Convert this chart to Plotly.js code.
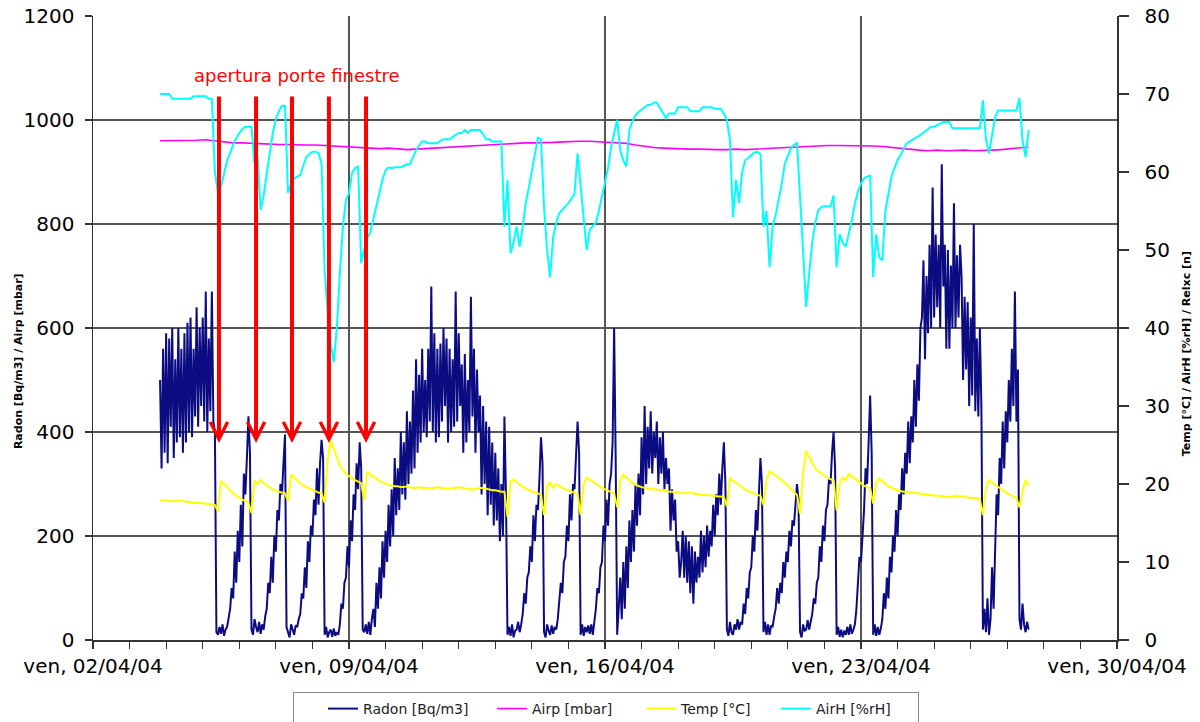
<!DOCTYPE html>
<html>
<head>
<meta charset="utf-8">
<script src="https://cdn.plot.ly/plotly-3.0.1.min.js"></script>
<style>html,body{margin:0;padding:0;background:#fff;}#chart{width:1200px;height:722px;}</style>
</head>
<body>
<div id="chart"></div>
<script>
// ---------- DATA ----------
// Logging starts 03/04/2004 20:00 at a regular step
const seriesStart = '2004-04-03T20:00:00Z';
const radonStepHours = 1;   // Radon
const stepHours = 2;        // Temp, AirH
const airpStepHours = 6;    // Airp

const radon = [
500,330,560,360,590,340,580,410,600,350,540,380,600,390,560,360,590,380,610,400,620,390,560,430,640,410,600,450,620,420,670,400,580,440,670,420,400,15,
10,25,12,30,8,20,25,40,60,100,80,170,110,210,150,260,180,320,280,350,430,360,
20,10,40,25,15,35,12,30,20,45,60,110,90,160,110,200,170,250,230,300,280,340,395,25,
15,5,30,18,10,28,25,40,50,90,80,140,100,190,150,220,200,270,240,330,260,340,385,350,
10,25,5,15,20,6,22,8,15,10,30,70,60,110,120,180,140,230,190,280,250,340,290,380,330,20,
15,30,12,35,10,40,60,25,110,60,140,80,190,120,210,150,260,180,290,200,350,240,330,250,400,280,380,270,440,300,420,320,480,330,540,360,510,380,560,400,500,390,560,420,
680,400,590,380,560,390,570,420,600,450,580,380,560,400,540,410,670,420,590,450,530,360,550,380,500,400,660,430,560,360,520,400,
470,280,450,300,420,240,410,260,380,220,360,230,330,190,300,200,430,280,
10,25,8,30,5,18,20,35,15,30,50,90,70,120,130,180,150,240,190,260,250,310,390,340,
15,5,30,18,10,28,12,25,20,40,70,110,90,150,160,220,190,280,230,300,290,350,420,360,
10,30,8,25,15,28,12,30,10,35,60,100,90,140,150,220,190,270,220,300,320,380,600,350,
10,60,120,40,150,60,180,100,230,150,250,170,300,220,320,240,390,280,450,300,410,330,440,320,400,350,420,300,390,320,400,290,350,300,330,210,290,230,270,170,190,120,
150,210,120,200,110,190,90,180,70,170,110,160,120,210,130,200,140,220,160,210,180,260,200,280,240,320,260,330,380,300,
20,8,35,15,10,30,20,40,20,35,30,70,50,100,80,130,140,200,170,250,210,280,350,300,
15,35,10,30,10,28,25,45,60,100,70,110,90,150,120,170,150,210,180,230,220,260,300,270,
15,5,30,18,20,38,20,35,50,80,70,110,120,180,150,220,190,250,260,310,300,360,400,330,
10,25,6,20,5,18,10,25,10,30,12,20,30,60,100,160,150,200,250,330,300,380,470,360,
10,30,8,25,10,22,40,90,60,120,80,160,130,200,170,250,200,280,250,330,280,360,320,420,340,430,380,500,410,530,460,600,
620,730,540,700,590,760,600,870,620,780,640,760,600,915,680,760,560,750,560,720,600,840,600,740,620,760,
700,500,660,520,650,450,620,470,800,440,580,430,600,450,
20,60,15,80,10,40,140,60,200,280,240,350,300,420,330,440,380,500,420,560,450,670,420,520,
40,20,70,30,15,35,20
];

const temp = [
17.9,17.9,17.9,17.8,17.8,17.8,17.9,17.9,17.8,17.7,17.7,17.6,17.6,17.6,17.5,17.5,17.4,17.4,17.3,
16.5,20.4,20.0,19.5,19.1,18.8,18.5,18.2,18.0,17.8,17.6,
16.3,20.4,20.0,20.5,20.1,19.8,19.5,19.3,19.1,19.0,18.9,18.8,
17.8,21.2,20.8,20.4,20.1,19.8,19.6,19.4,19.2,19.0,18.9,18.8,
17.6,23.0,25.6,24.5,23.3,22.4,21.8,21.3,21.0,20.7,20.5,20.3,20.1,
17.9,21.6,21.2,20.9,20.6,20.4,20.2,20.0,19.9,19.8,19.7,19.7,19.6,19.6,19.7,19.6,19.5,19.5,19.6,19.5,
19.5,19.5,19.4,19.5,19.6,19.5,19.5,19.4,19.4,19.5,19.5,19.6,19.5,19.4,19.4,19.3,19.3,19.4,19.5,19.5,19.4,19.3,19.2,19.2,19.1,19.0,19.0,
15.8,20.3,20.6,20.2,19.9,19.6,19.4,19.2,19.0,18.9,18.8,18.6,
16.0,19.8,20.2,19.5,20.0,19.7,19.5,19.3,19.1,19.0,18.9,18.7,
16.0,20.0,20.8,20.6,20.3,20.0,19.7,19.5,19.3,19.1,18.9,18.8,
17.0,20.5,21.2,20.8,20.4,20.1,19.9,19.7,19.6,19.5,19.4,19.4,19.3,19.3,19.2,19.2,19.1,19.0,19.0,18.9,18.9,
18.9,18.8,18.8,18.9,18.8,18.7,18.7,18.6,18.6,18.6,18.5,18.5,18.4,18.4,18.3,
17.1,20.7,20.4,20.1,19.8,19.5,19.3,19.1,18.9,18.7,18.6,18.5,
17.3,20.5,21.6,21.4,21.1,20.8,20.5,20.2,19.8,19.4,19.0,18.6,
16.2,21.5,24.2,23.4,22.6,22.0,21.6,21.3,21.0,20.8,20.6,20.5,
16.6,20.0,20.8,20.5,21.3,21.0,20.6,20.3,20.0,19.8,19.6,19.5,
17.5,20.2,20.7,20.3,20.0,19.7,19.5,19.3,19.2,
19.1,19.0,19.0,18.9,18.9,18.8,18.8,18.7,18.7,18.6,18.6,18.5,18.5,18.5,18.4,18.4,18.3,18.4,18.5,18.4,18.4,18.3,18.3,18.2,18.2,18.2,18.1,
16.0,19.5,20.5,20.2,19.9,19.6,19.3,19.0,18.8,18.6,18.4,18.2,
17.0,19.0,20.5,19.8
];

const airH = [
70.0,70.0,70.0,70.0,69.4,69.4,69.4,69.4,69.4,69.4,69.4,69.7,69.7,69.7,69.7,69.7,69.4,69.4,
60.0,57.3,58.1,60.0,61.5,62.4,63.5,64.3,65.0,65.5,65.8,65.8,65.8,
61.1,62.0,55.1,57.0,59.8,62.5,65.0,66.8,67.8,68.5,68.5,
57.3,58.5,59.2,59.4,59.6,60.8,61.9,62.3,62.6,62.6,62.4,61.1,
47.4,42.0,38.0,35.6,40.0,47.0,53.0,56.4,57.3,59.9,60.5,60.7,
48.3,50.0,51.5,52.3,54.0,56.0,57.7,59.0,60.2,60.6,60.5,60.6,60.6,
60.6,60.8,61.0,61.0,62.0,62.8,63.4,63.9,63.9,63.7,63.7,63.7,63.7,
64.0,64.2,64.2,64.2,64.5,64.8,65.0,65.0,65.4,65.0,65.4,65.4,65.4,
65.4,64.8,64.2,64.2,63.9,63.9,63.9,63.9,
53.0,59.0,49.6,51.0,53.0,50.4,53.0,56.0,58.0,60.3,62.5,64.4,64.2,
55.5,50.0,46.5,51.7,53.5,54.7,55.2,55.6,56.0,56.6,57.2,62.4,
57.9,54.0,50.0,52.6,53.0,53.5,55.0,57.0,58.5,60.5,63.2,65.0,
66.7,62.8,61.5,60.7,65.4,66.5,67.3,67.7,68.0,68.2,68.6,68.6,
68.9,68.9,68.2,67.5,66.9,67.5,67.5,67.5,68.3,68.3,68.3,68.3,
67.8,67.8,67.8,67.8,68.3,68.3,68.3,68.3,68.1,68.1,68.1,67.5,
66.7,64.1,54.2,59.0,56.0,60.0,61.5,61.8,62.2,62.5,62.6,62.3,
53.0,55.0,47.8,53.0,54.5,56.4,58.5,61.1,62.0,63.0,63.5,63.7,
56.8,50.0,42.7,47.0,51.0,53.5,55.1,55.5,55.6,55.6,55.6,57.0,
47.8,52.0,51.0,50.4,52.0,53.8,56.0,57.5,58.5,59.2,59.4,59.5,
46.5,52.0,49.0,48.7,55.0,57.5,59.4,60.5,61.5,62.2,63.0,63.7,
63.9,64.2,64.4,64.6,64.9,65.2,65.5,65.8,65.8,66.0,66.2,66.4,
66.4,66.4,65.6,65.6,65.6,65.6,65.6,65.6,65.6,65.6,65.6,65.6,
69.2,64.2,62.4,65.0,67.0,67.9,67.9,67.9,67.9,67.9,67.9,67.9,
69.5,64.0,61.9,65.4
];

const airp = [
960,960,961,960,961,962,960,958,956,956,
955,954,954,953,953,952,952,952,951,951,
950,949,948,946,945,946,944,943,944,945,
946,947,948,949,950,952,953,954,955,955,
956,956,956,957,958,959,959,959,958,958,
957,955,952,949,947,946,945,945,944,944,
943,943,943,944,943,944,945,946,947,948,
948,949,950,951,951,951,951,950,950,949,
947,945,943,942,941,942,941,942,942,941,
941,942,943,945,946,948
];

const seriesNames = ['Radon [Bq/m3]', 'Airp [mbar]', 'Temp [°C]', 'AirH [%rH]'];
const xTickVals = ['2004-04-02', '2004-04-09', '2004-04-16', '2004-04-23', '2004-04-30'];
const xTickText = ['ven, 02/04/04', 'ven, 09/04/04', 'ven, 16/04/04', 'ven, 23/04/04', 'ven, 30/04/04'];
const xRange = ['2004-04-02', '2004-04-30'];
const leftRange = [0, 1200];
const rightRange = [0, 80];

// window openings (red arrows)
const arrowTimes = ['2004-04-05 10:40', '2004-04-06 11:00', '2004-04-07 10:35', '2004-04-08 10:50', '2004-04-09 11:10'];
const arrowTipValue = 379;
const arrowTailValue = 1048;
const arrowLabel = 'apertura porte finestre';
const leftTitle = 'Radon [Bq/m3] / Airp [mbar]';
const rightTitle = 'Temp [°C] / AirH [%rH] / Relxc [n]';

// ---------- BUILD ----------
function timeAxis(n, hours) {
  const t0 = Date.parse(seriesStart);
  const out = [];
  for (let i = 0; i < n; i++) {
    const d = new Date(t0 + i * hours * 3600000);
    out.push(d.toISOString().slice(0, 19).replace('T', ' '));
  }
  return out;
}

const legendWidths = [95, 75, 61, 97];

const traces = [
  { x: timeAxis(radon.length, radonStepHours), y: radon, name: seriesNames[0], type: 'scatter', mode: 'lines',
    line: { color: '#0c0c82', width: 2 }, yaxis: 'y', legendwidth: legendWidths[0] },
  { x: timeAxis(airp.length, airpStepHours), y: airp, name: seriesNames[1], type: 'scatter', mode: 'lines',
    line: { color: '#ff00ff', width: 1.6 }, yaxis: 'y', legendwidth: legendWidths[1] },
  { x: timeAxis(temp.length, stepHours), y: temp, name: seriesNames[2], type: 'scatter', mode: 'lines',
    line: { color: '#ffff00', width: 2 }, yaxis: 'y2', legendwidth: legendWidths[2] },
  { x: timeAxis(airH.length, stepHours), y: airH, name: seriesNames[3], type: 'scatter', mode: 'lines',
    line: { color: '#00ffff', width: 2 }, yaxis: 'y2', legendwidth: legendWidths[3] }
];

const annotations = arrowTimes.map(t => ({
  x: t, y: arrowTipValue, xref: 'x', yref: 'y',
  ax: t, ay: arrowTailValue, axref: 'x', ayref: 'y',
  showarrow: true, arrowhead: 5, arrowsize: 0.85, arrowwidth: 4, arrowcolor: '#ff0000',
  standoff: 0, text: ''
}));
annotations.push({
  text: arrowLabel, xref: 'paper', yref: 'paper', x: 0.1997, y: 0.9054,
  xanchor: 'center', yanchor: 'middle', showarrow: false,
  font: { family: 'DejaVu Sans', size: 18, color: '#ff0000' }
});
annotations.push({
  text: leftTitle, xref: 'paper', yref: 'paper', x: -0.0732, y: 0.447,
  xanchor: 'center', yanchor: 'middle', textangle: -90, showarrow: false,
  font: { family: 'DejaVu Sans', size: 11, color: '#000', weight: 'bold' }
});
annotations.push({
  text: rightTitle, xref: 'paper', yref: 'paper', x: 1.0674, y: 0.458,
  xanchor: 'center', yanchor: 'middle', textangle: -90, showarrow: false,
  font: { family: 'DejaVu Sans', size: 11, color: '#000', weight: 'bold' }
});

const layout = {
  width: 1200, height: 722,
  margin: { l: 93, r: 83, t: 16, b: 82, autoexpand: false },
  paper_bgcolor: '#ffffff', plot_bgcolor: '#ffffff',
  font: { family: 'DejaVu Sans', size: 20, color: '#000' },
  showlegend: true,
  legend: {
    orientation: 'h', x: 0.1953, xanchor: 'left', y: -0.0833, yanchor: 'top',
    bgcolor: '#ffffff', bordercolor: '#8a8a8a', borderwidth: 1, indentation: 29,
    font: { family: 'DejaVu Sans', size: 14, color: '#222' }
  },
  xaxis: {
    type: 'date', range: xRange, tickmode: 'array', tickvals: xTickVals, ticktext: xTickText,
    ticks: 'outside', ticklen: 7, tickwidth: 1.2, tickcolor: '#333',
    showgrid: true, gridcolor: '#555', gridwidth: 1.3,
    showline: true, linecolor: '#333', linewidth: 1.5, zeroline: false,
    minor: { dtick: 86400000, ticks: 'outside', ticklen: 7, tickwidth: 1.2, tickcolor: '#333', showgrid: false },
    tickfont: { size: 20, color: '#000' }
  },
  yaxis: {
    range: leftRange, tickmode: 'linear', tick0: 0, dtick: 200,
    ticks: 'outside', ticklen: 7, tickwidth: 1.2, tickcolor: '#333', ticklabelstandoff: 6,
    showgrid: true, gridcolor: '#555', gridwidth: 1.3,
    showline: true, linecolor: '#333', linewidth: 1.5, zeroline: false,
    tickfont: { size: 20, color: '#000' }
  },
  yaxis2: {
    overlaying: 'y', side: 'right', range: rightRange, tickmode: 'linear', tick0: 0, dtick: 10,
    ticks: 'outside', ticklen: 10, tickwidth: 1.2, tickcolor: '#333', ticklabelstandoff: 12,
    showgrid: false, showline: true, linecolor: '#333', linewidth: 1.5, zeroline: false,
    tickfont: { size: 20, color: '#000' }
  },
  annotations: annotations
};

Plotly.newPlot('chart', traces, layout, { staticPlot: true, displayModeBar: false });
</script>
</body>
</html>
